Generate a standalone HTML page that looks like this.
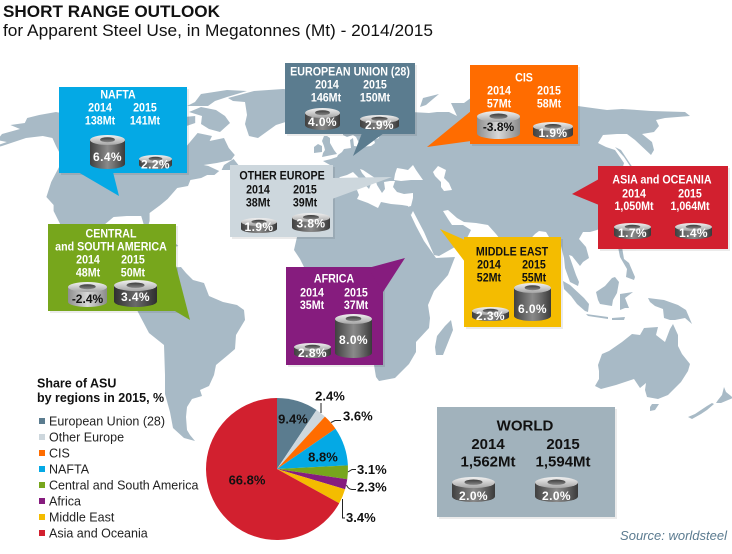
<!DOCTYPE html>
<html>
<head>
<meta charset="utf-8">
<style>
html,body{margin:0;padding:0;background:#fff;}
body{width:732px;height:554px;overflow:hidden;}
svg{display:block;font-family:"Liberation Sans",Arial,sans-serif;}
.bt{font-size:12px;font-weight:bold;text-anchor:middle;}
.w{fill:#fff;}
.k{fill:#111;}
.cl{font-size:12px;font-weight:bold;text-anchor:middle;fill:#fff;letter-spacing:.4px;}
.clk{font-size:12px;font-weight:bold;text-anchor:middle;fill:#111;}
.pl{font-size:13px;font-weight:bold;fill:#111;}
.lg{font-size:12.5px;fill:#222;}
</style>
</head>
<body>
<svg width="732" height="554" viewBox="0 0 732 554" xmlns="http://www.w3.org/2000/svg">
<defs>
<linearGradient id="bd" x1="0" y1="0" x2="1" y2="0">
<stop offset="0" stop-color="#404040"/><stop offset="0.5" stop-color="#8a8a8a"/><stop offset="0.65" stop-color="#767676"/><stop offset="1" stop-color="#3a3a3a"/>
</linearGradient>
<linearGradient id="bd2" x1="0" y1="0" x2="1" y2="0">
<stop offset="0" stop-color="#303030"/><stop offset="0.5" stop-color="#6a6a6a"/><stop offset="1" stop-color="#2e2e2e"/>
</linearGradient>
<linearGradient id="bl" x1="0" y1="0" x2="1" y2="0">
<stop offset="0" stop-color="#8e8e8e"/><stop offset="0.5" stop-color="#d8d8d8"/><stop offset="1" stop-color="#8a8a8a"/>
</linearGradient>
<linearGradient id="tp" x1="0" y1="0" x2="0" y2="1">
<stop offset="0" stop-color="#f2f2f2"/><stop offset="1" stop-color="#a5a5a5"/>
</linearGradient>
<linearGradient id="hl" x1="0" y1="0" x2="0" y2="1">
<stop offset="0" stop-color="#3c3c3c"/><stop offset="1" stop-color="#858585"/>
</linearGradient>
</defs>
<rect width="732" height="554" fill="#fff"/>

<!-- MAP -->
<g fill="#a8bac6">
 <g transform="matrix(1.2,0,0,1,-37.6,0)">
  <polygon points="13,152 33,146 53,138 67,136 75,138 78,146 81,153 81,166 74,182 70,197 76,205 76,211 86,235 96,243 113,253 124,257 135,261 139,269 151,276 158,273 151,271 143,266 143,254 134,253 138,238 130,240 121,246 114,237 116,227 126,217 137,216 149,216 151,224 154,229 156,221 156,213 165,205 171,199 179,188 188,186 190,180 199,178 204,175 210,175 214,171 205,166 201,165 212,163 224,160 227,155 222,148 220,143 218,138 206,141 208,136 196,133 189,143 182,153 174,157 168,150 161,142 164,136 182,128 194,123 194,116 175,118 165,120 148,120 136,117 127,115 107,117 98,116 86,114 78,112 64,115 54,118 52,123 40,125 48,129 33,134 29,140 37,142"/>
  <polygon points="216,170 229,170 230,165 226,159 218,165"/>
  <polygon points="166,243 177,243 180,246 173,248"/>
  <ellipse cx="8" cy="155" rx="5" ry="1.5"/>
 </g>
 <polygon points="228,98 254,91 283,89 308,91 311,100 302,111 292,120 276,125 258,138 249,136 245,124 247,115 245,102 233,101"/>
 <polygon points="220,132 230,123 225,116 216,110 201,107 189,112 202,116 201,124 209,129"/>
 <polygon points="215,101 227,97 247,91 227,90 201,94 195,102 187,106 208,106"/>
 <g transform="translate(-5,-6)">
  <polygon points="320,182 319,193 326,200 334,198 340,188 345,183 352,181 358,178 365,185 374,195 376,190 379,189 373,186 367,179 365,175 368,176 380,184 382,191 387,199 390,195 389,188 395,187 400,187 398,193 402,198 409,200 418,199 418,204 416,212 412,213 412,216 416,221 418,217 429,238 439,261 444,262 460,253 471,246 476,236 468,231 457,231 453,225 448,217 453,216 462,224 469,228 481,229 493,231 501,240 509,250 517,272 521,274 526,269 525,256 540,240 544,237 551,238 557,248 566,252 569,264 570,274 575,288 583,292 584,288 581,281 574,261 577,262 585,272 588,268 594,264 591,253 584,245 588,238 595,238 602,236 608,233 612,224 613,215 607,205 597,195 601,188 605,192 610,190 617,196 620,204 626,202 624,197 618,192 617,183 623,182 626,180 629,169 620,156 611,153 603,149 608,141 622,140 632,140 640,146 656,161 659,156 657,148 647,140 659,138 664,132 661,126 670,124 695,122 690,118 656,117 642,116 627,115 612,116 590,113 568,110 556,113 549,110 522,108 508,100 497,99 490,102 477,103 469,109 456,109 462,122 454,118 442,118 434,119 416,118 411,123 395,117 381,113 369,115 363,121 357,130 348,134 348,141 352,143 358,141 361,143 364,149 370,148 374,140 371,134 377,128 383,125 378,131 379,136 382,138 393,137 384,140 384,144 379,146 380,149 376,152 367,153 359,152 358,144 355,146 356,154 349,155 347,158 343,161 342,163 336,165 328,167 335,171 336,179"/>
  <polygon points="327,163 342,160 339,156 335,149 335,144 332,142 329,142 327,147 329,152 330,156 328,159"/>
  <polygon points="319,159 327,158 327,152 323,150 319,153"/>
  <polygon points="620,153 626,156 638,174 635,172 629,163"/>
  <polygon points="425,113 428,104 444,100 438,105 431,111"/>
  <polygon fill="#fff" points="399,186 400,180 402,174 408,175 413,176 418,171 421,176 428,186 416,186 406,187"/>
  <polygon fill="#fff" points="438,178 443,172 451,176 449,184 454,189 457,196 449,197 446,193 446,188 440,182"/>
 </g>
 <g transform="translate(-4,-7)">
  <polygon points="325,201 339,201 361,197 363,202 361,206 372,210 382,215 385,209 395,211 406,212 412,213 412,216 420,233 428,248 440,265 459,264 452,282 438,298 432,312 434,325 433,335 420,349 420,359 413,371 399,385 383,388 380,384 378,372 372,357 366,341 370,325 367,309 360,298 361,285 353,284 343,279 327,282 321,284 308,274 304,266 298,257 301,244 299,240 309,223 316,217 317,211 324,204"/>
  <polygon points="440,362 447,362 457,337 455,327 449,333 441,343 439,354"/>
 </g>
 <g transform="translate(-12,0)">
  <polygon points="158,273 162,267 171,263 179,268 193,267 198,273 205,280 216,283 221,296 235,302 249,305 256,310 257,320 248,335 247,349 240,355 228,365 226,375 221,386 212,390 214,396 204,399 199,407 198,417 199,430 202,435 207,441 196,438 185,428 182,412 177,394 177,375 176,345 161,333 152,316 148,308 150,298 150,293 154,289 157,285 156,277"/>
 </g>
 <polygon points="598,365 602,354 609,351 622,342 632,334 640,335 644,328 658,327 656,335 665,342 670,329 673,324 678,335 678,346 682,354 690,364 688,371 681,382 668,395 658,399 647,397 645,390 646,383 640,388 634,379 616,385 601,389 595,386 599,379 599,371"/>
 <polygon points="652,404 659,404 655,410 650,411 650,407"/>
 <polygon points="724,387 726,392 731,396 733,398 721,403 716,403 718,400 722,395"/>
 <polygon points="712,403 714,404 707,410 701,414 692,419 688,417 695,414 707,406"/>
 <polygon points="563,281 570,285 584,298 589,304 588,312 585,311 577,304 571,296 564,289"/>
 <polygon points="586,314 608,317 608,319 588,316"/>
 <polygon points="596,292 605,286 612,278 615,277 619,282 617,293 613,300 612,306 600,304 598,300"/>
 <polygon points="620,310 620,294 633,292 625,298 629,308 625,308"/>
 <polygon points="618,247 622,247 624,259 629,263 635,277 634,280 626,277 627,269 620,257"/>
 <polygon points="648,298 664,300 678,305 686,310 692,324 685,318 675,320 670,320 664,318 663,309 655,306 650,302"/>
 <polygon points="612,318 625,317 624,320 612,320"/>
</g>

<!-- TITLE -->
<text x="3" y="17" font-size="17" font-weight="bold" fill="#111" textLength="217" lengthAdjust="spacingAndGlyphs">SHORT RANGE OUTLOOK</text>
<text x="3" y="36" font-size="17" fill="#111" textLength="430" lengthAdjust="spacingAndGlyphs">for Apparent Steel Use, in Megatonnes (Mt) - 2014/2015</text>

<!-- BOX SHADOWS -->
<g fill="#000" opacity="0.08">
 <rect x="61" y="89" width="128" height="86"/>
 <rect x="287" y="65" width="130" height="71"/>
 <rect x="472" y="67" width="108" height="79"/>
 <rect x="232" y="167" width="103" height="72"/>
 <rect x="600" y="168" width="130" height="83"/>
 <rect x="50" y="226" width="128" height="87"/>
 <rect x="288" y="269" width="97" height="98"/>
 <rect x="466" y="239" width="97" height="90"/>
 <rect x="439" y="409" width="178" height="110"/>
</g>

<!-- BOXES -->
<g fill="#04a9e5"><rect x="59" y="87" width="128" height="86"/><polygon points="78,172 113,172 119,196"/></g>
<g fill="#5b7c8f"><rect x="285" y="63" width="130" height="71"/><polygon points="362,133 384,133 353,156"/></g>
<g fill="#ff6c00"><rect x="470" y="65" width="108" height="79"/><polygon points="471,111 471,141 427,147"/></g>
<g fill="#cdd7dd"><rect x="230" y="165" width="103" height="72"/><polygon points="332,178 332,199 392,177"/></g>
<g fill="#d2202f"><rect x="598" y="166" width="130" height="83"/><polygon points="599,179 599,205 572,194"/></g>
<g fill="#77a61c"><rect x="48" y="224" width="128" height="87"/><polygon points="175,262 175,311 190,320"/></g>
<g fill="#861c7e"><rect x="286" y="267" width="97" height="98"/><polygon points="368,268 405,258 383,292"/></g>
<g fill="#f4bc00"><rect x="464" y="237" width="97" height="90"/><polygon points="465,240 465,262 440,229"/></g>
<rect x="437" y="407" width="178" height="110" fill="#a1b2bc"/>

<!-- BOX TEXT (condensed) -->
<g transform="scale(0.89,1)">
 <g class="w">
  <text class="bt" x="132.6" y="98.3">NAFTA</text>
  <text class="bt" x="112.4" y="111.3">2014</text><text class="bt" x="162.9" y="111.3">2015</text>
  <text class="bt" x="112.4" y="124.3">138Mt</text><text class="bt" x="162.9" y="124.3">141Mt</text>

  <text class="bt" x="393.3" y="75.6">EUROPEAN UNION (28)</text>
  <text class="bt" x="367.4" y="88.3">2014</text><text class="bt" x="421.3" y="88.3">2015</text>
  <text class="bt" x="366.3" y="101.3">146Mt</text><text class="bt" x="421.3" y="101.3">150Mt</text>

  <text class="bt" x="588.8" y="81.3">CIS</text>
  <text class="bt" x="560.7" y="94.3">2014</text><text class="bt" x="616.9" y="94.3">2015</text>
  <text class="bt" x="560.7" y="107.3">57Mt</text><text class="bt" x="616.9" y="107.3">58Mt</text>

  <text class="bt" x="743.8" y="183.3">ASIA and OCEANIA</text>
  <text class="bt" x="712.4" y="197.3">2014</text><text class="bt" x="775.3" y="197.3">2015</text>
  <text class="bt" x="712.4" y="209.8">1,050Mt</text><text class="bt" x="775.3" y="209.8">1,064Mt</text>

  <text class="bt" x="124.7" y="237.3">CENTRAL</text>
  <text class="bt" x="124.7" y="250.3">and SOUTH AMERICA</text>
  <text class="bt" x="98.9" y="263.3">2014</text><text class="bt" x="149.4" y="263.3">2015</text>
  <text class="bt" x="98.9" y="276.3">48Mt</text><text class="bt" x="149.4" y="276.3">50Mt</text>

  <text class="bt" x="375.3" y="282.3">AFRICA</text>
  <text class="bt" x="350.6" y="296.3">2014</text><text class="bt" x="400" y="296.3">2015</text>
  <text class="bt" x="350.6" y="308.8">35Mt</text><text class="bt" x="400" y="308.8">37Mt</text>
 </g>
 <g class="k">
  <text class="bt" x="316.9" y="179.3">OTHER EUROPE</text>
  <text class="bt" x="289.9" y="193.3">2014</text><text class="bt" x="342.7" y="193.3">2015</text>
  <text class="bt" x="289.9" y="206.3">38Mt</text><text class="bt" x="342.7" y="206.3">39Mt</text>

  <text class="bt" x="575.3" y="255.3">MIDDLE EAST</text>
  <text class="bt" x="549.4" y="268.3">2014</text><text class="bt" x="600" y="268.3">2015</text>
  <text class="bt" x="549.4" y="281.3">52Mt</text><text class="bt" x="600" y="281.3">55Mt</text>
 </g>
</g>

<!-- WORLD TEXT -->
<g fill="#111" font-weight="bold" font-size="15" text-anchor="middle">
 <text x="525" y="430.5">WORLD</text>
 <text x="488" y="449">2014</text><text x="563" y="449">2015</text>
 <text x="488" y="466.5">1,562Mt</text><text x="563" y="466.5">1,594Mt</text>
</g>

<!-- CYLINDERS -->
<path d="M90 140V164A17.5 5 0 0 0 125 164V140Z" fill="url(#bd)"/>
<ellipse cx="107.5" cy="140" rx="17.5" ry="5" fill="url(#tp)"/>
<ellipse cx="107.5" cy="139.7" rx="7.4" ry="2.5" fill="url(#hl)"/>
<text class="cl" x="107.5" y="161">6.4%</text>
<path d="M139 159V165A16.5 4 0 0 0 172 165V159Z" fill="url(#bd)"/>
<ellipse cx="155.5" cy="159" rx="16.5" ry="4" fill="url(#tp)"/>
<ellipse cx="155.5" cy="158.8" rx="6.9" ry="2" fill="url(#hl)"/>
<text class="cl" x="155.5" y="168.5">2.2%</text>
<path d="M305 113V125A17.5 5 0 0 0 340 125V113Z" fill="url(#bd)"/>
<ellipse cx="322.5" cy="113" rx="17.5" ry="5" fill="url(#tp)"/>
<ellipse cx="322.5" cy="112.7" rx="7.4" ry="2.5" fill="url(#hl)"/>
<text class="cl" x="322.5" y="126">4.0%</text>
<path d="M360 119V126A19.5 4 0 0 0 399 126V119Z" fill="url(#bd)"/>
<ellipse cx="379.5" cy="119" rx="19.5" ry="4" fill="url(#tp)"/>
<ellipse cx="379.5" cy="118.8" rx="8.2" ry="2" fill="url(#hl)"/>
<text class="cl" x="379.5" y="129">2.9%</text>
<path d="M477 116.5V133.5A21.5 5.5 0 0 0 520 133.5V116.5Z" fill="url(#bl)"/>
<ellipse cx="498.5" cy="116.5" rx="21.5" ry="5.5" fill="url(#tp)"/>
<ellipse cx="498.5" cy="116.2" rx="9" ry="2.7" fill="url(#hl)"/>
<text class="clk" x="498.5" y="131">-3.8%</text>
<path d="M533 126.5V134.5A20 4.5 0 0 0 573 134.5V126.5Z" fill="url(#bd)"/>
<ellipse cx="553" cy="126.5" rx="20" ry="4.5" fill="url(#tp)"/>
<ellipse cx="553" cy="126.2" rx="8.4" ry="2.2" fill="url(#hl)"/>
<text class="cl" x="553" y="137">1.9%</text>
<path d="M614 227V235A18.5 4 0 0 0 651 235V227Z" fill="url(#bd)"/>
<ellipse cx="632.5" cy="227" rx="18.5" ry="4" fill="url(#tp)"/>
<ellipse cx="632.5" cy="226.8" rx="7.8" ry="2" fill="url(#hl)"/>
<text class="cl" x="632.5" y="237">1.7%</text>
<path d="M675 227V235A18.5 4 0 0 0 712 235V227Z" fill="url(#bd)"/>
<ellipse cx="693.5" cy="227" rx="18.5" ry="4" fill="url(#tp)"/>
<ellipse cx="693.5" cy="226.8" rx="7.8" ry="2" fill="url(#hl)"/>
<text class="cl" x="693.5" y="237">1.4%</text>
<path d="M241 222V229A18 4 0 0 0 277 229V222Z" fill="url(#bd)"/>
<ellipse cx="259" cy="222" rx="18" ry="4" fill="url(#tp)"/>
<ellipse cx="259" cy="221.8" rx="7.6" ry="2" fill="url(#hl)"/>
<text class="cl" x="259" y="231">1.9%</text>
<path d="M292 217.5V227.5A19 4.5 0 0 0 330 227.5V217.5Z" fill="url(#bd)"/>
<ellipse cx="311" cy="217.5" rx="19" ry="4.5" fill="url(#tp)"/>
<ellipse cx="311" cy="217.2" rx="8" ry="2.2" fill="url(#hl)"/>
<text class="cl" x="311" y="227.5">3.8%</text>
<path d="M68 287V302A19.5 5 0 0 0 107 302V287Z" fill="url(#bl)"/>
<ellipse cx="87.5" cy="287" rx="19.5" ry="5" fill="url(#tp)"/>
<ellipse cx="87.5" cy="286.7" rx="8.2" ry="2.5" fill="url(#hl)"/>
<text class="clk" x="87.5" y="303">-2.4%</text>
<path d="M114 285.5V301.5A21.5 5.5 0 0 0 157 301.5V285.5Z" fill="url(#bd2)"/>
<ellipse cx="135.5" cy="285.5" rx="21.5" ry="5.5" fill="url(#tp)"/>
<ellipse cx="135.5" cy="285.2" rx="9" ry="2.7" fill="url(#hl)"/>
<text class="cl" x="135.5" y="301">3.4%</text>
<path d="M294 347V354A18.5 4 0 0 0 331 354V347Z" fill="url(#bd)"/>
<ellipse cx="312.5" cy="347" rx="18.5" ry="4" fill="url(#tp)"/>
<ellipse cx="312.5" cy="346.8" rx="7.8" ry="2" fill="url(#hl)"/>
<text class="cl" x="312.5" y="357">2.8%</text>
<path d="M335 319V353A18.5 5 0 0 0 372 353V319Z" fill="url(#bd)"/>
<ellipse cx="353.5" cy="319" rx="18.5" ry="5" fill="url(#tp)"/>
<ellipse cx="353.5" cy="318.7" rx="7.8" ry="2.5" fill="url(#hl)"/>
<text class="cl" x="353.5" y="344">8.0%</text>
<path d="M472 311V317A18.5 4 0 0 0 509 317V311Z" fill="url(#bd)"/>
<ellipse cx="490.5" cy="311" rx="18.5" ry="4" fill="url(#tp)"/>
<ellipse cx="490.5" cy="310.8" rx="7.8" ry="2" fill="url(#hl)"/>
<text class="cl" x="490.5" y="320">2.3%</text>
<path d="M514 288V316A18.5 5 0 0 0 551 316V288Z" fill="url(#bd)"/>
<ellipse cx="532.5" cy="288" rx="18.5" ry="5" fill="url(#tp)"/>
<ellipse cx="532.5" cy="287.7" rx="7.8" ry="2.5" fill="url(#hl)"/>
<text class="cl" x="532.5" y="313">6.0%</text>
<path d="M452 482.5V496.5A21.5 5.5 0 0 0 495 496.5V482.5Z" fill="url(#bd)"/>
<ellipse cx="473.5" cy="482.5" rx="21.5" ry="5.5" fill="url(#tp)"/>
<ellipse cx="473.5" cy="482.2" rx="9" ry="2.7" fill="url(#hl)"/>
<text class="cl" x="473.5" y="500" font-size="13">2.0%</text>
<path d="M535 482.5V496.5A21.5 5.5 0 0 0 578 496.5V482.5Z" fill="url(#bd)"/>
<ellipse cx="556.5" cy="482.5" rx="21.5" ry="5.5" fill="url(#tp)"/>
<ellipse cx="556.5" cy="482.2" rx="9" ry="2.7" fill="url(#hl)"/>
<text class="cl" x="556.5" y="500" font-size="13">2.0%</text>

<!-- PIE -->
<path d="M277 469L277 398A71 71 0 0 1 316.54 410.03Z" fill="#5b7c8f"/>
<path d="M277 469L316.54 410.03A71 71 0 0 1 324.95 416.64Z" fill="#cdd7dd"/>
<path d="M277 469L324.95 416.64A71 71 0 0 1 335.48 428.73Z" fill="#ff6c00"/>
<path d="M277 469L335.48 428.73A71 71 0 0 1 347.91 465.43Z" fill="#04a9e5"/>
<path d="M277 469L347.91 465.43A71 71 0 0 1 347.26 479.22Z" fill="#77a61c"/>
<path d="M277 469L347.26 479.22A71 71 0 0 1 345.05 489.24Z" fill="#861c7e"/>
<path d="M277 469L345.05 489.24A71 71 0 0 1 339.22 503.21Z" fill="#f4bc00"/>
<path d="M277 469L339.22 503.21A71 71 0 1 1 277 398Z" fill="#d2202f"/>
<g stroke="#222" stroke-width="1" fill="none">
 <path d="M321 413V403"/>
 <path d="M331 422.5L335 420.5H341"/>
 <path d="M348 472L352 469.5H356"/>
 <path d="M346.5 485Q348 489 352 489.5H356"/>
 <path d="M342.5 499V518H345"/>
</g>
<text class="pl" x="330" y="400.7" text-anchor="middle">2.4%</text>
<text class="pl" x="343" y="420.7">3.6%</text>
<text class="pl" x="357" y="474">3.1%</text>
<text class="pl" x="357" y="491.5">2.3%</text>
<text class="pl" x="346" y="522">3.4%</text>
<text class="pl" x="293" y="423.7" text-anchor="middle">9.4%</text>
<text class="pl" x="323" y="461.7" text-anchor="middle">8.8%</text>
<text class="pl" x="247" y="484.7" text-anchor="middle">66.8%</text>

<!-- LEGEND -->
<text x="37" y="387.5" font-size="12.5" font-weight="bold" fill="#111">Share of ASU</text>
<text x="37" y="401.8" font-size="12.5" font-weight="bold" fill="#111">by regions in 2015, %</text>
<rect x="39" y="418" width="6" height="6" fill="#5b7c8f"/><text class="lg" x="49" y="425.5">European Union (28)</text>
<rect x="39" y="434" width="6" height="6" fill="#cdd7dd"/><text class="lg" x="49" y="441.5">Other Europe</text>
<rect x="39" y="450" width="6" height="6" fill="#ff6c00"/><text class="lg" x="49" y="457.5">CIS</text>
<rect x="39" y="466" width="6" height="6" fill="#04a9e5"/><text class="lg" x="49" y="473.5">NAFTA</text>
<rect x="39" y="482" width="6" height="6" fill="#77a61c"/><text class="lg" x="49" y="489.5">Central and South America</text>
<rect x="39" y="498" width="6" height="6" fill="#861c7e"/><text class="lg" x="49" y="505.5">Africa</text>
<rect x="39" y="514" width="6" height="6" fill="#f4bc00"/><text class="lg" x="49" y="521.5">Middle East</text>
<rect x="39" y="530" width="6" height="6" fill="#d2202f"/><text class="lg" x="49" y="537.5">Asia and Oceania</text>

<!-- SOURCE -->
<text x="727" y="540" font-size="13" font-style="italic" fill="#5b7b90" text-anchor="end">Source: worldsteel</text>
</svg>
</body>
</html>
